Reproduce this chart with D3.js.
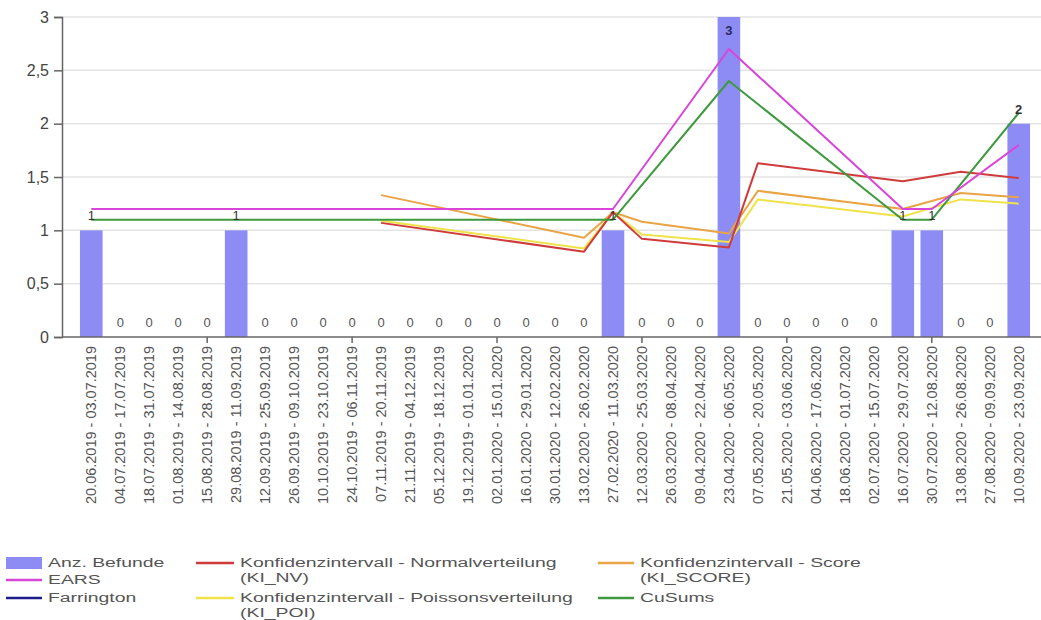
<!DOCTYPE html>
<html>
<head>
<meta charset="utf-8">
<script src="https://cdn.jsdelivr.net/npm/d3@7"></script>
<style>
  html, body { margin: 0; padding: 0; background: #fff; }
  svg { display: block; font-family: Arial, "Liberation Sans", sans-serif; }
</style>
</head>
<body>
<svg id="chart" width="1041" height="620"></svg>
<script>
// Reporting periods (two-week windows)
const periods = [
  "20.06.2019 - 03.07.2019", "04.07.2019 - 17.07.2019", "18.07.2019 - 31.07.2019",
  "01.08.2019 - 14.08.2019", "15.08.2019 - 28.08.2019", "29.08.2019 - 11.09.2019",
  "12.09.2019 - 25.09.2019", "26.09.2019 - 09.10.2019", "10.10.2019 - 23.10.2019",
  "24.10.2019 - 06.11.2019", "07.11.2019 - 20.11.2019", "21.11.2019 - 04.12.2019",
  "05.12.2019 - 18.12.2019", "19.12.2019 - 01.01.2020", "02.01.2020 - 15.01.2020",
  "16.01.2020 - 29.01.2020", "30.01.2020 - 12.02.2020", "13.02.2020 - 26.02.2020",
  "27.02.2020 - 11.03.2020", "12.03.2020 - 25.03.2020", "26.03.2020 - 08.04.2020",
  "09.04.2020 - 22.04.2020", "23.04.2020 - 06.05.2020", "07.05.2020 - 20.05.2020",
  "21.05.2020 - 03.06.2020", "04.06.2020 - 17.06.2020", "18.06.2020 - 01.07.2020",
  "02.07.2020 - 15.07.2020", "16.07.2020 - 29.07.2020", "30.07.2020 - 12.08.2020",
  "13.08.2020 - 26.08.2020", "27.08.2020 - 09.09.2020", "10.09.2020 - 23.09.2020"
];

// Number of findings per period
const befunde = [1,0,0,0,0,1,0,0,0,0,0,0,0,0,0,0,0,0,1,0,0,0,3,0,0,0,0,0,1,1,0,0,2];

// Detection thresholds per period (null = no value for that period)
const _ = null;
const ears    = [1.2,1.2,1.2,1.2,1.2,1.2,1.2,1.2,1.2,1.2,1.2,1.2,1.2,1.2,1.2,1.2,1.2,1.2,1.2,_,_,_,2.7,_,_,_,_,_,1.2,1.2,_,_,1.8];
const cusums  = [1.1,1.1,1.1,1.1,1.1,1.1,1.1,1.1,1.1,1.1,1.1,1.1,1.1,1.1,1.1,1.1,1.1,1.1,1.1,_,_,_,2.4,_,_,_,_,_,1.1,1.1,_,_,2.1];
const kiNV    = [_,_,_,_,_,_,_,_,_,_,1.07,_,_,_,_,_,_,0.80,1.17,0.92,_,_,0.84,1.63,_,_,_,_,1.46,_,1.55,_,1.49];
const kiPOI   = [_,_,_,_,_,_,_,_,_,_,1.09,_,_,_,_,_,_,0.83,1.17,0.96,_,_,0.89,1.29,_,_,_,_,1.13,_,1.29,_,1.25];
const kiSCORE = [_,_,_,_,_,_,_,_,_,_,1.33,_,_,_,_,_,_,0.93,1.17,1.08,_,_,0.97,1.37,_,_,_,_,1.20,_,1.35,_,1.31];
const farrington = [];

const yTicks = [0, 0.5, 1, 1.5, 2, 2.5, 3];

const colors = {
  bar: "#8c8cf4",
  ears: "#d845d8",
  farrington: "#1c1c8a",
  kiNV: "#cf3b3b",
  kiPOI: "#efe24a",
  kiSCORE: "#e9a444",
  cusums: "#3f993f"
};

const svg = d3.select("#chart");
const plot = { left: 62, top: 17, bottom: 337, right: 1048 };

const x = d3.scaleBand()
  .domain(d3.range(periods.length))
  .range([plot.left, plot.right])
  .paddingInner(0.22)
  .paddingOuter(0.62);

const y = d3.scaleLinear().domain([0, 3]).range([plot.bottom, plot.top]);
const cx = i => x(i) + x.bandwidth() / 2;
const fmt = v => String(v).replace(".", ",");

// horizontal grid
svg.append("g")
  .selectAll("line")
  .data(yTicks.filter(t => t > 0))
  .join("line")
  .attr("x1", plot.left).attr("x2", 1041)
  .attr("y1", d => y(d)).attr("y2", d => y(d))
  .attr("stroke", "#e4e4e4").attr("stroke-width", 1.5);

// bars
svg.append("g")
  .selectAll("rect")
  .data(befunde)
  .join("rect")
  .attr("x", (d, i) => x(i))
  .attr("width", x.bandwidth())
  .attr("y", d => y(d))
  .attr("height", d => y(0) - y(d))
  .attr("fill", colors.bar);

// y axis
const yAxis = svg.append("g")
  .attr("transform", `translate(${plot.left},0)`)
  .call(d3.axisLeft(y).tickValues(yTicks).tickFormat(fmt).tickSize(8).tickPadding(5));
yAxis.select(".domain").attr("stroke", "#666").attr("stroke-width", 1.5);
yAxis.selectAll(".tick line").attr("stroke", "#666").attr("stroke-width", 1.5);
yAxis.selectAll(".tick text")
  .attr("font-size", 16).attr("fill", "#444")
  .attr("font-family", "Arial, 'Liberation Sans', sans-serif");

// x axis
const xAxis = svg.append("g")
  .attr("transform", `translate(0,${plot.bottom})`)
  .call(d3.axisBottom(x).tickFormat(i => periods[i]).tickSize(0).tickPadding(0));
xAxis.select(".domain").attr("stroke", "#666").attr("stroke-width", 1.5)
  .attr("d", `M${plot.left},0H1041`);
xAxis.selectAll(".tick text")
  .attr("font-size", 14.5)
  .attr("fill", "#555")
  .attr("font-family", "Arial, 'Liberation Sans', sans-serif")
  .attr("text-anchor", "end")
  .attr("transform", "rotate(-90)")
  .attr("x", -9)
  .attr("y", 0)
  .attr("dy", "0.35em");
// small ticks on every fifth period
xAxis.selectAll(".tick")
  .filter(i => i % 5 === 4)
  .append("line")
  .attr("y1", 0).attr("y2", 6)
  .attr("stroke", "#666").attr("stroke-width", 1.5);

// threshold lines
const series = [
  { key: "kiSCORE", values: kiSCORE },
  { key: "kiPOI", values: kiPOI },
  { key: "kiNV", values: kiNV },
  { key: "cusums", values: cusums },
  { key: "ears", values: ears },
  { key: "farrington", values: farrington }
];
const line = d3.line().x(d => cx(d.i)).y(d => y(d.v));
svg.append("g")
  .selectAll("path")
  .data(series)
  .join("path")
  .attr("fill", "none")
  .attr("stroke", d => colors[d.key])
  .attr("stroke-width", 2)
  .attr("stroke-linejoin", "round")
  .attr("d", d => {
    const pts = d.values.map((v, i) => ({ i, v })).filter(p => p.v != null);
    return pts.length ? line(pts) : null;
  });

// value labels
const maxVal = d3.max(befunde);
svg.append("g")
  .selectAll("text")
  .data(befunde)
  .join("text")
  .attr("x", (d, i) => cx(i))
  .attr("y", d => d === maxVal ? y(d) + 18 : y(d) - 10)
  .attr("text-anchor", "middle")
  .attr("font-size", 13)
  .attr("font-weight", d => d > 1 ? "bold" : "normal")
  .attr("fill", d => d === 0 ? "#555" : d === maxVal ? "#2a2a60" : "#333")
  .text(d => d);

// legend
const legendItems = [
  { key: "bar", lines: ["Anz. Befunde"], col: 0, row: 0, type: "rect" },
  { key: "ears", lines: ["EARS"], col: 0, row: 1 },
  { key: "farrington", lines: ["Farrington"], col: 0, row: 2 },
  { key: "kiNV", lines: ["Konfidenzintervall - Normalverteilung", "(KI_NV)"], col: 1, row: 0 },
  { key: "kiPOI", lines: ["Konfidenzintervall - Poissonsverteilung", "(KI_POI)"], col: 1, row: 2 },
  { key: "kiSCORE", lines: ["Konfidenzintervall - Score", "(KI_SCORE)"], col: 2, row: 0 },
  { key: "cusums", lines: ["CuSums"], col: 2, row: 2 }
];
const colX = [6, 196, 598];
const rowY = [563, 580, 598];
const swatchW = [36, 38, 36];
const stretch = 1.55;
const legend = svg.append("g").attr("font-size", 12.5).attr("fill", "#555");
legendItems.forEach(it => {
  const gx = colX[it.col], gy = rowY[it.row];
  const sw = swatchW[it.col];
  if (it.type === "rect") {
    legend.append("rect").attr("x", gx).attr("y", gy - 6).attr("width", sw).attr("height", 12)
      .attr("fill", colors[it.key]);
  } else {
    legend.append("line").attr("x1", gx).attr("x2", gx + sw).attr("y1", gy).attr("y2", gy)
      .attr("stroke", colors[it.key]).attr("stroke-width", 2.5);
  }
  it.lines.forEach((t, k) => {
    const tx = legend.append("text")
      .attr("x", gx + sw + 6)
      .attr("y", gy + k * 14.5)
      .attr("dy", "0.35em")
      .text(t);
    const w = tx.node().getComputedTextLength();
    tx.attr("textLength", w * stretch).attr("lengthAdjust", "spacingAndGlyphs");
  });
});
</script>
</body>
</html>
